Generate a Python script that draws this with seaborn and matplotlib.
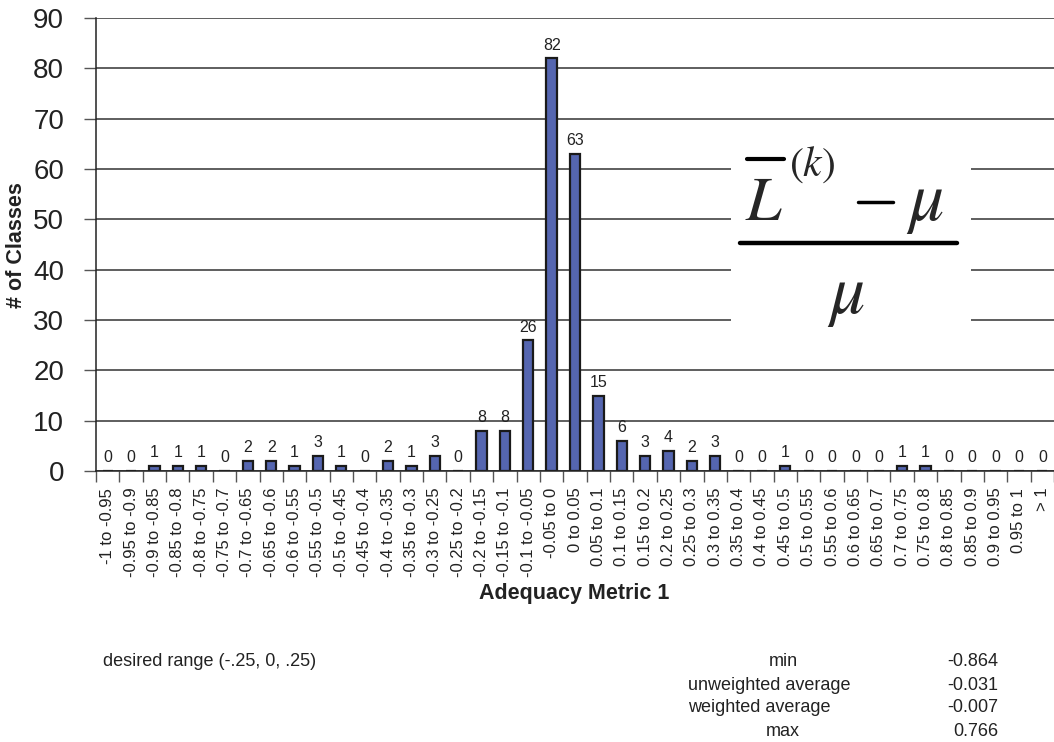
import matplotlib
matplotlib.use("Agg")
import matplotlib.pyplot as plt
from matplotlib.lines import Line2D
from matplotlib.patches import Rectangle
from matplotlib.ticker import FixedLocator
import seaborn as sns
import pandas as pd

categories = ["-1 to -0.95", "-0.95 to -0.9", "-0.9 to -0.85", "-0.85 to -0.8", "-0.8 to -0.75",
              "-0.75 to -0.7", "-0.7 to -0.65", "-0.65 to -0.6", "-0.6 to -0.55", "-0.55 to -0.5",
              "-0.5 to -0.45", "-0.45 to -0.4", "-0.4 to -0.35", "-0.35 to -0.3", "-0.3 to -0.25",
              "-0.25 to -0.2", "-0.2 to -0.15", "-0.15 to -0.1", "-0.1 to -0.05", "-0.05 to 0",
              "0 to 0.05", "0.05 to 0.1", "0.1 to 0.15", "0.15 to 0.2", "0.2 to 0.25",
              "0.25 to 0.3", "0.3 to 0.35", "0.35 to 0.4", "0.4 to 0.45", "0.45 to 0.5",
              "0.5 to 0.55", "0.55 to 0.6", "0.6 to 0.65", "0.65 to 0.7", "0.7 to 0.75",
              "0.75 to 0.8", "0.8 to 0.85", "0.85 to 0.9", "0.9 to 0.95", "0.95 to 1", "> 1"]
counts = [0, 0, 1, 1, 1, 0, 2, 2, 1, 3,
          1, 0, 2, 1, 3, 0, 8, 8, 26, 82,
          63, 15, 6, 3, 4, 2, 3, 0, 0, 1,
          0, 0, 0, 0, 1, 1, 0, 0, 0, 0, 0]
y_ticks = [0, 10, 20, 30, 40, 50, 60, 70, 80, 90]
stat_names = ["min", "unweighted average", "weighted average", "max"]
stat_values = ["-0.864", "-0.031", "-0.007", "0.766"]
note_text = "desired range (-.25, 0, .25)"
x_title = "Adequacy Metric 1"
y_title = "# of Classes"

sns.set_theme(style="white")
plt.rcParams["font.family"] = ["Liberation Sans", "DejaVu Sans"]
plt.rcParams["mathtext.fontset"] = "stix"

W, H = 1054, 742
fig = plt.figure(figsize=(W / 100, H / 100), dpi=100)
ax = fig.add_axes([96 / W, 1 - 471 / H, (1054 - 96) / W, (471 - 18) / H])

df = pd.DataFrame({"cat": categories, "n": counts})
sns.barplot(data=df, x="cat", y="n", order=categories, color="#5566b0", saturation=1,
            edgecolor="#1a1a1a", linewidth=1.6, width=0.44, ax=ax)

ax.set_xlim(-0.5, len(categories) - 0.5)
ax.set_ylim(0, 90)
ax.set_yticks(y_ticks)
ax.set_yticklabels([str(v) for v in y_ticks], fontsize=20, color="#222222")
ax.yaxis.grid(True, color="#333333", linewidth=1.1)
ax.set_axisbelow(True)
ax.xaxis.grid(False)
for s in ["top", "right"]:
    ax.spines[s].set_visible(False)
for s in ["left", "bottom"]:
    ax.spines[s].set_color("#222222")
    ax.spines[s].set_linewidth(1.1)

ax.set_xticks(range(len(categories)))
ax.set_xticklabels(categories, rotation=90, fontsize=12, color="#222222")
ax.xaxis.set_minor_locator(FixedLocator([i - 0.5 for i in range(len(categories) + 1)]))
ax.tick_params(axis="x", which="major", length=0, pad=12)
ax.tick_params(axis="x", which="minor", bottom=True, length=8, width=1, color="#555555", direction="out")
ax.tick_params(axis="y", which="major", left=True, length=9, width=1, color="#555555", direction="out", pad=14)

ax.set_xlabel("")
ax.set_ylabel("")
for c in ax.containers:
    ax.bar_label(c, labels=[str(v) for v in counts], padding=4, fontsize=11.5, color="#222222")

# axis titles
fig.text(574 / W, 1 - 594 / H, x_title, ha="center", va="center", fontsize=15.5,
         fontweight="bold", color="#222222")
fig.text(17 / W, 1 - 245 / H, y_title, ha="center", va="center", rotation=90,
         fontsize=15.5, fontweight="bold", color="#222222")

# formula box
fig.patches.append(Rectangle((731 / W, 1 - 365 / H), (971 - 731) / W, (365 - 125) / H,
                             transform=fig.transFigure, facecolor="white", edgecolor="none", zorder=5))
fig.text(745 / W, 1 - 220 / H, r"$L$", ha="left", va="baseline", fontsize=46, zorder=6)
fig.lines.append(Line2D([747 / W, 784 / W], [1 - 159 / H, 1 - 159 / H], transform=fig.transFigure,
                        color="black", linewidth=3, zorder=6))
fig.text(789 / W, 1 - 176 / H, r"$(k)$", ha="left", va="baseline", fontsize=30, zorder=6)
fig.lines.append(Line2D([858 / W, 893 / W], [1 - 202 / H, 1 - 202 / H], transform=fig.transFigure,
                        color="black", linewidth=2.5, zorder=6))
fig.text(906 / W, 1 - 220 / H, r"$\mu$", ha="left", va="baseline", fontsize=50, zorder=6)
fig.lines.append(Line2D([740 / W, 957 / W], [1 - 243 / H, 1 - 243 / H], transform=fig.transFigure,
                        color="black", linewidth=3.2, zorder=6, solid_capstyle="round"))
fig.text(846 / W, 1 - 313 / H, r"$\mu$", ha="center", va="baseline", fontsize=50, zorder=6)

# notes
fig.text(103 / W, 1 - 662 / H, note_text, ha="left", va="center", fontsize=13, color="#222222")
rows_y = [662, 685, 708, 731]
for name, val, yy in zip(stat_names, stat_values, rows_y):
    if name in ("unweighted average", "weighted average"):
        fig.text(688 / W, 1 - yy / H, name, ha="left", va="center", fontsize=13, color="#222222")
    else:
        fig.text(783 / W, 1 - yy / H, name, ha="center", va="center", fontsize=13, color="#222222")
    fig.text(998 / W, 1 - yy / H, val, ha="right", va="center", fontsize=13, color="#222222")

fig.savefig("out.png", dpi=100)
